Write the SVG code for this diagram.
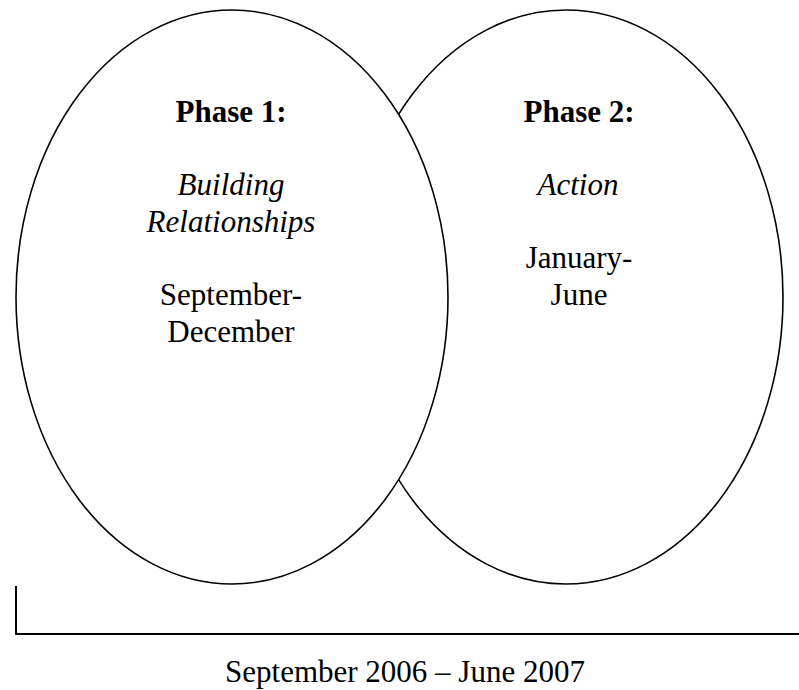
<svg xmlns="http://www.w3.org/2000/svg" width="799" height="690" viewBox="0 0 799 690">
<style>
.shape{fill:#fff;stroke:#000;stroke-width:1.6}
.t{font-family:"Liberation Serif","Times New Roman",serif;font-size:31px;fill:#000;text-anchor:middle}
.b{font-weight:bold}
.i{font-style:italic}
.axis{fill:none;stroke:#000;stroke-width:2}
</style>
<rect width="799" height="690" fill="#fff"/>
<g id="phase2">
<ellipse class="shape" cx="566" cy="297" rx="217" ry="287"/>
<text class="t b" x="579" y="122">Phase 2:</text>
<text class="t i" x="578" y="195">Action</text>
<text class="t" x="579" y="268">January-</text>
<text class="t" x="579" y="305">June</text>
</g>
<g id="phase1">
<ellipse class="shape" cx="232" cy="297" rx="216" ry="287"/>
<text class="t b" x="231" y="122">Phase 1:</text>
<text class="t i" x="231" y="195">Building</text>
<text class="t i" x="231" y="232">Relationships</text>
<text class="t" x="231" y="305">September-</text>
<text class="t" x="231" y="342">December</text>
</g>
<g id="connectors">
<path class="axis" d="M16 586 V634 H799"/>
</g>
<g id="timeline">
<text class="t" x="405" y="682">September 2006 – June 2007</text>
</g>
</svg>
